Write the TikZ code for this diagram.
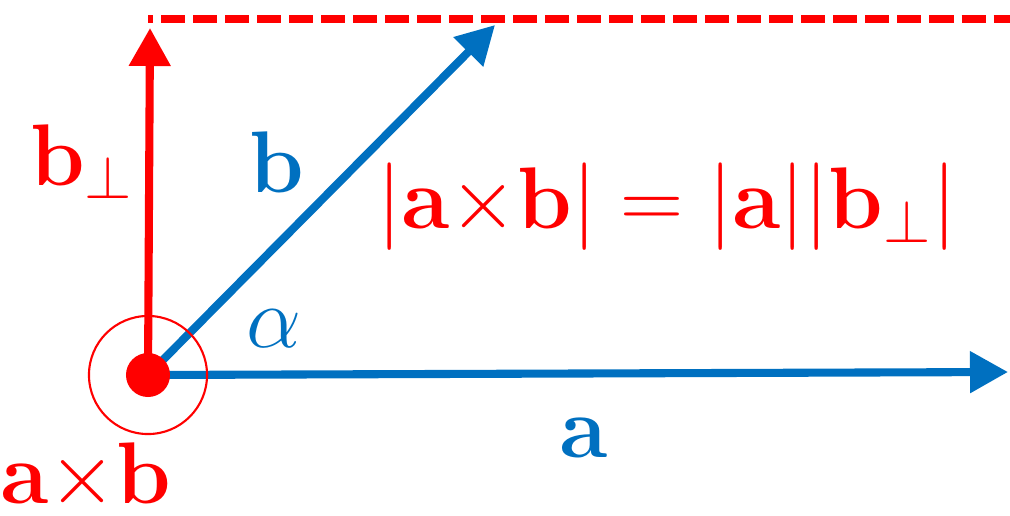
\documentclass[tikz,border=0pt]{standalone}
\usepackage{amsmath}
\usepackage{tikz}
\usetikzlibrary{
  arrows.meta,
  positioning
}
\definecolor{vecblue}{RGB}{0,112,192}
\definecolor{vecred}{RGB}{255,0,0}

\begin{document}
\begin{tikzpicture}[x=0.01cm, y=-0.01cm]

\tikzset{
  vecarrow/.style={
    -{Triangle[length=3.8mm, width=4mm]},
    line width=2.3pt
  },
  veclabel/.style={
    inner sep=0pt,
    font=\fontsize{25}{30}\selectfont
  },
  crossdot/.style={
    circle,
    fill=vecred,
    minimum size=0.44cm,
    inner sep=0pt
  },
  crossring/.style={
    circle,
    draw=vecred,
    line width=0.6pt,
    minimum size=1.18cm,
    inner sep=0pt
  }
}

\useasboundingbox (0,0) rectangle (1010,515);

% COORDINATES ----------------------------------------------------

\coordinate (O)      at (148,375);
\coordinate (atip)   at (1008,372);
\coordinate (btip)   at (495,25);
\coordinate (bptip)  at (150,28);
\coordinate (dashL)  at (148,19);
\coordinate (dashR)  at (1010,19);

% NODES ----------------------------------------------------------

% Labels of the vectors
\node[veclabel, text=vecred]  (bplab)  at (82,162)  {$\mathbf{b}_{\perp}$};
\node[veclabel, text=vecblue] (blab)   at (277,162) {$\mathbf{b}$};
\node[veclabel, text=vecblue] (alab)   at (583,438) {\fontsize{29}{34}\selectfont$\mathbf{a}$};
\node[veclabel, text=vecblue] (alpha)  at (274,329) {$\alpha$};
\node[veclabel, text=vecred]  (axblab) at (86,477)  {$\mathbf{a}{\times}\mathbf{b}$};

% Area formula
\node[veclabel, text=vecred, font=\fontsize{24}{29}\selectfont] (area) at (667,207)
  {$|\mathbf{a}{\times}\mathbf{b}| = |\mathbf{a}||\mathbf{b}_{\perp}|$};

% DRAWS ---------------------------------------------------------

% Height of the parallelogram
\draw[vecred, line width=2pt, dash pattern=on 0.24cm off 0.08cm, dash phase=0.19cm]
  (dashL) -- (dashR);

% Vectors a, b and b perp
\draw[vecarrow, vecblue] (O) -- (atip);
\draw[vecarrow, vecblue] (O) -- (btip);
\draw[vecarrow, vecred]  (O) -- (bptip);

% a x b pointing out of the page
\node[crossring] (ring) at (O) {};
\node[crossdot]  (dot)  at (O) {};

\end{tikzpicture}
\end{document}
